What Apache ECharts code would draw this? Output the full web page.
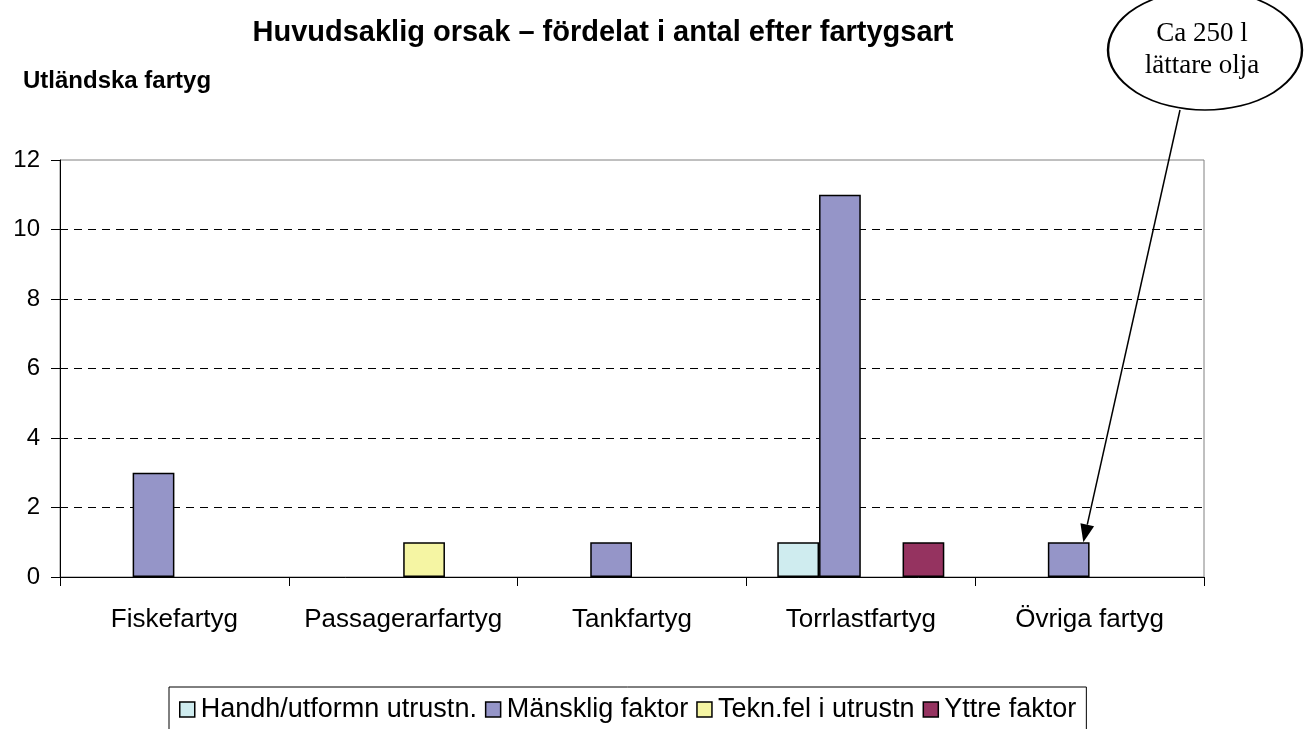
<!DOCTYPE html>
<html>
<head>
<meta charset="utf-8">
<script src="https://cdn.jsdelivr.net/npm/echarts@6/dist/echarts.min.js"></script>
<style>
	html, body { margin: 0; padding: 0; background: #fff; }
	#chart { width: 1307px; height: 729px; }
</style>
</head>
<body>
<div id="chart"></div>
<script>
var categories = ['Fiskefartyg', 'Passagerarfartyg', 'Tankfartyg', 'Torrlastfartyg', 'Övriga fartyg'];
var seriesNames = ['Handh/utformn utrustn.', 'Mänsklig faktor', 'Tekn.fel i utrustn', 'Yttre faktor'];
var handhData = [0, 0, 0, 1, 0];
var manskligData = [3, 0, 1, 11, 1];
var teknData = [0, 1, 0, 0, 0];
var yttreData = [0, 0, 0, 1, 0];
var yTicks = { min: 0, max: 12, interval: 2 };
var noteLines = ['Ca 250 l', 'lättare olja'];

var FONT = '"Liberation Sans", Arial, sans-serif';
var colors = ['#cfecef', '#9595c8', '#f5f5a3', '#953360'];

var chart = echarts.init(document.getElementById('chart'));

function barSeries(idx, data){
	return {
		name: seriesNames[idx],
		type: 'bar',
		// Excel draws nothing for a zero count
		data: data.map(function(v){ return v === 0 ? '-' : v; }),
		barGap: 0,
		barCategoryGap: '27%',
		itemStyle: {
			color: colors[idx],
			borderColor: '#000',
			borderWidth: 1.5
		},
		emphasis: { disabled: true }
	};
}

var option = {
	animation: false,
	color: colors,
	title: [{
		text: 'Huvudsaklig orsak – fördelat i antal efter fartygsart',
		left: 598,
		top: 13,
		textAlign: 'center',
		textStyle: { fontFamily: FONT, fontSize: 29, fontWeight: 'bold', color: '#000' }
	}, {
		text: 'Utländska fartyg',
		left: 18,
		top: 64,
		textStyle: { fontFamily: FONT, fontSize: 24, fontWeight: 'bold', color: '#000' }
	}],
	grid: {
		left: 60,
		right: 103,
		top: 160,
		bottom: 152,
		show: true,
		borderColor: '#808080',
		borderWidth: 1
	},
	legend: {
		data: seriesNames,
		left: 169,
		top: 687,
		padding: [9, 10, 14, 10],
		itemGap: 8,
		itemWidth: 15,
		itemHeight: 15,
		icon: 'rect',
		borderColor: '#000',
		borderWidth: 1,
		itemStyle: { borderColor: '#000', borderWidth: 1.5 },
		textStyle: { fontFamily: FONT, fontSize: 27, color: '#000', padding: [0, 0, 0, 1] }
	},
	xAxis: {
		type: 'category',
		data: categories,
		axisLine: { lineStyle: { color: '#000', width: 1 } },
		axisTick: { show: true, length: 9, lineStyle: { color: '#000' } },
		axisLabel: { fontFamily: FONT, fontSize: 26, color: '#000', margin: 30, interval: 0 },
		splitLine: { show: false }
	},
	yAxis: {
		type: 'value',
		min: yTicks.min,
		max: yTicks.max,
		interval: yTicks.interval,
		axisLine: { show: true, lineStyle: { color: '#000', width: 1 } },
		axisTick: { show: true, length: 9, lineStyle: { color: '#000' } },
		axisLabel: { fontFamily: FONT, fontSize: 24, color: '#000', margin: 20 },
		splitLine: {
			show: true,
			showMinLine: false,
			showMaxLine: false,
			lineStyle: { color: '#000', type: [8, 6], width: 1 }
		}
	},
	series: [
		barSeries(0, handhData),
		barSeries(1, manskligData),
		barSeries(2, teknData),
		barSeries(3, yttreData)
	]
};

chart.setOption(option);

// annotation: ellipse with note and an arrow to the Övriga fartyg bar
var layout = chart.getModel().getSeriesByIndex(1).getData().getItemLayout(4);
var tipX = layout.x + layout.width * 0.85;
var tipY = Math.min(layout.y, layout.y + layout.height);
var startX = 1180, startY = 110;
var ang = Math.atan2(tipY - startY, tipX - startX);
var headLen = 18, headW = 7;
var baseX = tipX - headLen * Math.cos(ang), baseY = tipY - headLen * Math.sin(ang);
var nx = -Math.sin(ang), ny = Math.cos(ang);

chart.setOption({
	graphic: [{
		type: 'circle',
		x: 1205,
		y: 50,
		scaleX: 97 / 60,
		scaleY: 1,
		shape: { cx: 0, cy: 0, r: 60 },
		style: { fill: '#fff', stroke: '#000', lineWidth: 1.5, strokeNoScale: true },
		z: 10
	}, {
		type: 'text',
		x: 1202,
		y: 50,
		style: {
			text: noteLines.join('\n'),
			font: '27px "Liberation Serif", "Times New Roman", serif',
			fill: '#000',
			align: 'center',
			verticalAlign: 'middle',
			lineHeight: 32
		},
		z: 11
	}, {
		type: 'line',
		shape: { x1: startX, y1: startY, x2: baseX, y2: baseY },
		style: { stroke: '#000', lineWidth: 1.5 },
		z: 10
	}, {
		type: 'polygon',
		shape: { points: [[tipX, tipY], [baseX + nx * headW, baseY + ny * headW], [baseX - nx * headW, baseY - ny * headW]] },
		style: { fill: '#000' },
		z: 10
	}]
});
</script>
</body>
</html>
